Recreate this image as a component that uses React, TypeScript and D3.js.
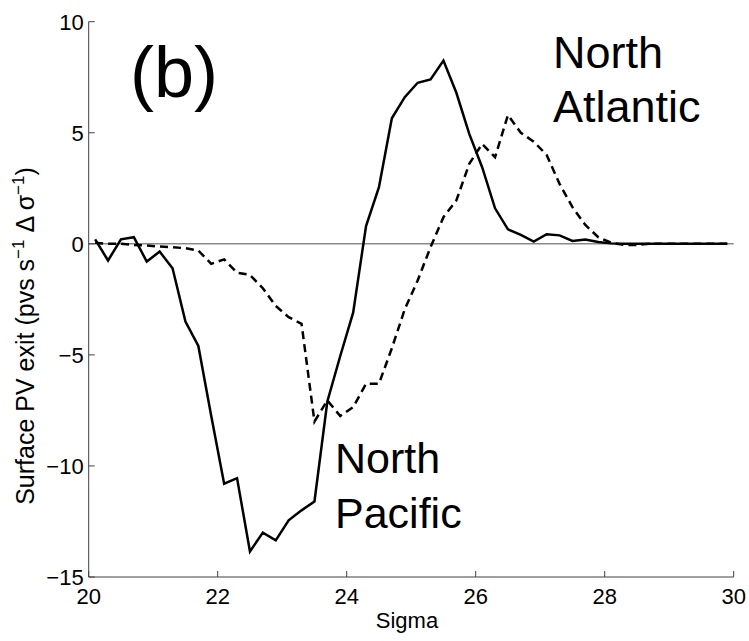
import React from "react";
import * as d3 from "d3";

const sigma: number[] = [
  20.1, 20.3, 20.5, 20.7, 20.9, 21.1, 21.3, 21.5, 21.7, 21.9,
  22.1, 22.3, 22.5, 22.7, 22.9, 23.1, 23.3, 23.5, 23.7, 23.9,
  24.1, 24.3, 24.5, 24.7, 24.9, 25.1, 25.3, 25.5, 25.7, 25.9,
  26.1, 26.3, 26.5, 26.7, 26.9, 27.1, 27.3, 27.5, 27.7, 27.9,
  28.1, 28.3, 28.5, 28.7, 28.9, 29.1, 29.3, 29.5, 29.7, 29.9,
];

const northPacific: number[] = [
  0.2, -0.75, 0.2, 0.3, -0.8, -0.35, -1.1, -3.5, -4.6, -7.75,
  -10.8, -10.55, -13.85, -13.0, -13.35, -12.45, -12.0, -11.6, -7.1, -5.05,
  -3.1, 0.8, 2.55, 5.65, 6.6, 7.25, 7.4, 8.25, 6.8, 4.95,
  3.45, 1.6, 0.65, 0.4, 0.1, 0.43, 0.38, 0.13, 0.19, 0.08,
  0.02, 0, 0, 0, 0, 0, 0, 0, 0, 0,
];

const northAtlantic: number[] = [
  0.05, 0.0, 0.0, -0.05, -0.08, -0.12, -0.15, -0.2, -0.3, -0.9,
  -0.7, -1.3, -1.4, -2.0, -2.8, -3.3, -3.6, -8.0, -7.05, -7.75,
  -7.35, -6.3, -6.3, -4.7, -2.95, -1.65, -0.15, 1.2, 1.95, 3.6,
  4.5, 3.9, 5.8, 5.0, 4.6, 4.0, 2.7, 1.65, 0.85, 0.3,
  0.05, -0.05, -0.05, 0, 0, 0, 0, 0, 0, 0,
];

const xTicks: number[] = [20, 22, 24, 26, 28, 30];
const yTicks: number[] = [-15, -10, -5, 0, 5, 10];

const FONT = "'Liberation Sans', Arial, Helvetica, sans-serif";

export default function App() {
  const W = 749;
  const H = 641;
  const x = d3.scaleLinear().domain([20, 30]).range([88.7, 733.7]);
  const y = d3.scaleLinear().domain([-15, 10]).range([577, 21.7]);

  const line = d3
    .line<number>()
    .x((_, i) => x(sigma[i]))
    .y((d) => y(d));

  const fmt = (v: number) => (v < 0 ? "\u2212" + Math.abs(v) : String(v));
  const axisColor = "#404040";

  return (
    <svg
      width={W}
      height={H}
      style={{ position: "absolute", left: 0, top: 0, background: "#fff" }}
      fontFamily={FONT}
    >
      <rect x={0} y={0} width={W} height={H} fill="#fff" />
      {/* zero line */}
      <line
        x1={x(20)}
        x2={x(30)}
        y1={y(0)}
        y2={y(0)}
        stroke="#8a8a8a"
        strokeWidth={1.5}
      />
      {/* axes */}
      <line x1={x(20)} x2={x(20)} y1={y(10)} y2={y(-15)} stroke={axisColor} strokeWidth={1} />
      <line x1={x(20)} x2={x(30)} y1={y(-15)} y2={y(-15)} stroke={axisColor} strokeWidth={1} />
      {yTicks.map((t) => (
        <g key={"y" + t}>
          <line x1={x(20)} x2={x(20) + 6} y1={y(t)} y2={y(t)} stroke={axisColor} strokeWidth={1} />
          <text
            x={x(20) - 5}
            y={y(t)}
            dy="0.36em"
            textAnchor="end"
            fontSize={22}
            fill="#000"
          >
            {fmt(t)}
          </text>
        </g>
      ))}
      {xTicks.map((t) => (
        <g key={"x" + t}>
          <line x1={x(t)} x2={x(t)} y1={y(-15)} y2={y(-15) - 6} stroke={axisColor} strokeWidth={1} />
          <text x={x(t)} y={604} textAnchor="middle" fontSize={22} fill="#000">
            {fmt(t)}
          </text>
        </g>
      ))}
      {/* axis labels */}
      <text x={407} y={628} textAnchor="middle" fontSize={22} fill="#000">
        Sigma
      </text>
      <text
        transform="translate(34,336) rotate(-90)"
        textAnchor="middle"
        fontSize={25}
        fill="#000"
      >
        Surface PV exit (pvs s
        <tspan dy={-10} fontSize={17}>{"\u22121"}</tspan>
        <tspan dy={10}>{"  \u0394 \u03c3"}</tspan>
        <tspan dy={-10} fontSize={17}>{"\u22121"}</tspan>
        <tspan dy={10}>)</tspan>
      </text>
      {/* data lines */}
      <path
        d={line(northAtlantic) || ""}
        fill="none"
        stroke="#000"
        strokeWidth={2.5}
        strokeDasharray="8,5"
        strokeLinejoin="miter"
      />
      <path
        d={line(northPacific) || ""}
        fill="none"
        stroke="#000"
        strokeWidth={2.5}
        strokeLinejoin="miter"
      />
      {/* annotations */}
      <text x={130} y={97} fontSize={72} fill="#000">
        (b)
      </text>
      <text x={553} y={68} fontSize={45} fill="#000">
        North
      </text>
      <text x={553} y={122} fontSize={45} fill="#000">
        Atlantic
      </text>
      <text x={335} y={473} fontSize={43} fill="#000">
        North
      </text>
      <text x={335} y={528} fontSize={43} fill="#000">
        Pacific
      </text>
    </svg>
  );
}
